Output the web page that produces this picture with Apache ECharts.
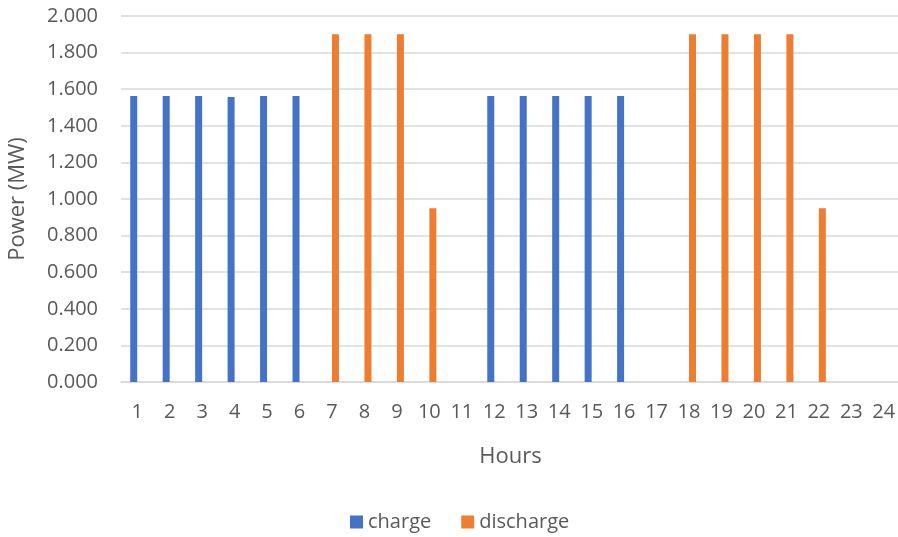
<!DOCTYPE html>
<html>
<head>
<meta charset="utf-8">
<script src="https://cdn.jsdelivr.net/npm/echarts@6/dist/echarts.min.js"></script>
<style>html,body{margin:0;padding:0;background:#fff}#c{width:898px;height:537px}</style>
</head>
<body>
<div id="c"></div>
<script>
const hours = ['1','2','3','4','5','6','7','8','9','10','11','12','13','14','15','16','17','18','19','20','21','22','23','24'];
const charge = [1.563,1.563,1.563,1.558,1.563,1.563,null,null,null,null,null,1.563,1.563,1.563,1.563,1.563,null,null,null,null,null,null,null,null];
const discharge = [null,null,null,null,null,null,1.9,1.9,1.9,0.95,null,null,null,null,null,null,null,1.9,1.9,1.9,1.9,0.95,null,null];
const yTicks = [0,0.2,0.4,0.6,0.8,1.0,1.2,1.4,1.6,1.8,2.0];

const font = 'Open Sans';
const chart = echarts.init(document.getElementById('c'));
chart.setOption({
  animation: false,
  textStyle: {fontFamily: font},
  grid: {left: 121, right: -2, top: 16, bottom: 155, containLabel: false, outerBoundsMode: 'none'},
  legend: {
    bottom: 0, left: 345, itemWidth: 13, itemHeight: 13, itemGap: 30,
    icon: 'rect',
    textStyle: {fontFamily: font, fontSize: 20, color: '#595959'},
    data: ['charge','discharge']
  },
  xAxis: {
    type: 'category', data: hours,
    name: 'Hours', nameLocation: 'middle', nameGap: 64,
    nameTextStyle: {fontFamily: font, fontSize: 22, color: '#595959'},
    axisLine: {lineStyle: {color: '#d9d9d9', width: 1.5}},
    axisTick: {show: false},
    axisLabel: {fontFamily: font, fontSize: 20, color: '#595959', margin: 20, interval: 0}
  },
  yAxis: {
    type: 'value', min: 0, max: 2, interval: 0.2,
    name: 'Power (MW)', nameLocation: 'middle', nameGap: 92, nameRotate: 90,
    nameTextStyle: {fontFamily: font, fontSize: 22, color: '#595959', padding: [0, 0, 0, 0]},
    axisLine: {show: false}, axisTick: {show: false},
    splitLine: {lineStyle: {color: '#d9d9d9', width: 1.5}},
    axisLabel: {fontFamily: font, fontSize: 20, color: '#595959', margin: 23,
      formatter: v => v.toFixed(3)}
  },
  series: [
    {name: 'charge', type: 'bar', data: charge, barWidth: 7, barGap: '0%',
      itemStyle: {color: '#4472C4'}},
    {name: 'discharge', type: 'bar', data: discharge, barWidth: 7, barGap: '0%',
      itemStyle: {color: '#ED7D31'}}
  ]
});
</script>
</body>
</html>
